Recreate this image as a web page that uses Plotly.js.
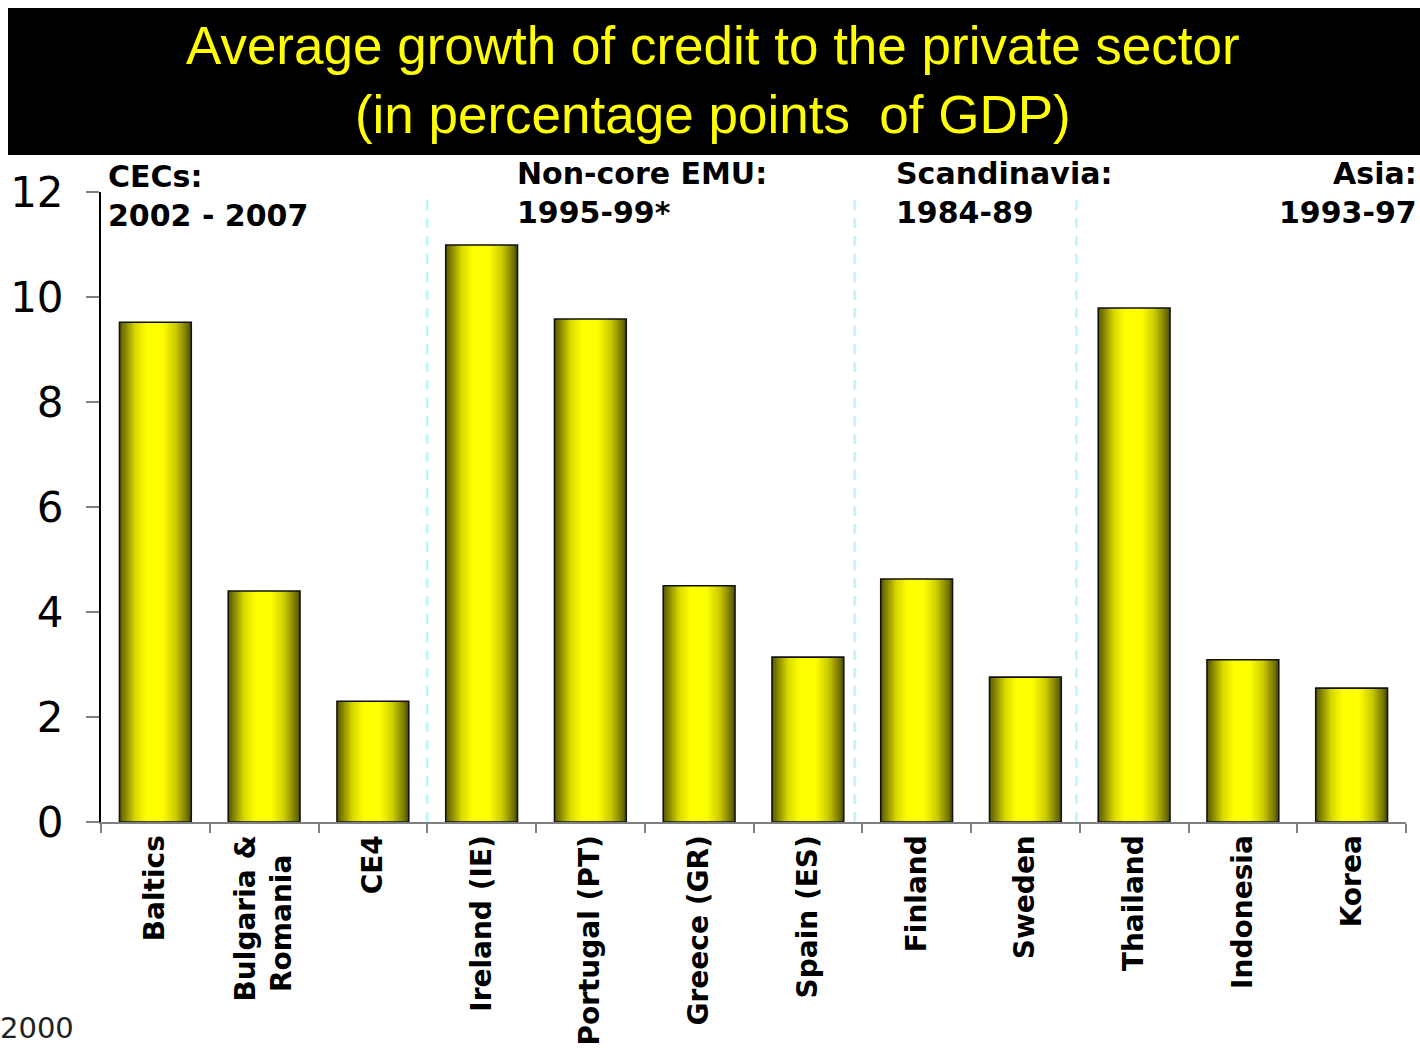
<!DOCTYPE html>
<html>
<head>
<meta charset="utf-8">
<script src="https://cdn.plot.ly/plotly-3.0.1.min.js"></script>
<style>
  html, body { margin: 0; padding: 0; background: #ffffff; }
  #chart { width: 1420px; height: 1052px; }
</style>
</head>
<body>
<div id="chart"></div>
<script>
// ---- data ----
const categories = [
  "Baltics", "Bulgaria &<br>Romania\u00A0\u00A0", "CE4",
  "Ireland (IE)", "Portugal (PT)", "Greece (GR)", "Spain (ES)",
  "Finland", "Sweden",
  "Thailand", "Indonesia", "Korea"
];
const growth = [9.52, 4.40, 2.30, 10.99, 9.58, 4.50, 3.14, 4.63, 2.76, 9.79, 3.09, 2.55];

const groupLabels = ["CECs:<br>2002 - 2007", "Non-core EMU:<br>1995-99*", "Scandinavia:<br>1984-89", "Asia:<br>1993-97"];
const titleLines = ["Average growth of credit to the private sector", "(in percentage points  of GDP)"];
const footNote = "2000";

// ---- styling helpers ----
const BAR_W = 0.66;
const N_STRIPS = 40;
function brightness(t) {
  const pts = [[0, 0.34], [0.08, 0.52], [0.22, 0.85], [0.38, 1.0], [0.6, 1.0], [0.78, 0.8], [0.92, 0.5], [1, 0.32]];
  for (let i = 1; i < pts.length; i++) {
    if (t <= pts[i][0]) {
      const [t0, b0] = pts[i - 1], [t1, b1] = pts[i];
      const u = (t - t0) / (t1 - t0);
      return b0 + (b1 - b0) * u;
    }
  }
  return pts[pts.length - 1][1];
}

const traces = [];
const sw = BAR_W / N_STRIPS;
for (let i = 0; i < N_STRIPS; i++) {
  const t = (i + 0.5) / N_STRIPS;
  const b = brightness(t);
  const c = Math.round(255 * b);
  traces.push({
    type: "bar",
    x: categories,
    y: growth,
    offset: -BAR_W / 2 + i * sw,
    width: sw + (i < N_STRIPS - 1 ? 0.006 : 0),
    marker: { color: `rgb(${c},${c},0)`, line: { width: 0 } },
    hoverinfo: "skip",
    showlegend: false
  });
}
// outline
traces.push({
  type: "bar",
  x: categories,
  y: growth,
  offset: -BAR_W / 2,
  width: BAR_W,
  marker: { color: "rgba(0,0,0,0)", line: { color: "#111111", width: 1.6 } },
  showlegend: false,
  hovertemplate: "%{x}: %{y}<extra></extra>"
});

// plot area: x 101..1406, y 192..822 (px)
const L = 101, R = 14, T = 192, B = 230, W = 1420, H = 1052;
const PW = W - L - R, PH = H - T - B;
const px = v => (v - L) / PW;
const py = v => (H - B - v) / PH;

const sepX = [2.5, 6.43, 8.47];
const shapes = [
  { type: "rect", xref: "paper", yref: "paper", x0: px(8), x1: px(1420), y0: py(155), y1: py(8),
    fillcolor: "#000000", line: { width: 0 }, layer: "below" }
];
sepX.forEach(x => shapes.push({
  type: "line", xref: "x", yref: "paper", x0: x, x1: x, y0: 0, y1: py(195),
  line: { color: "#bdf6fa", width: 2.5, dash: "10px,8px" }, layer: "below"
}));

const grpFont = { family: "DejaVu Sans, Verdana, sans-serif", size: 30, color: "#000000", weight: "bold" };
const annotations = [
  { text: groupLabels[0], xref: "paper", yref: "paper", x: px(106), y: py(157), xanchor: "left", yanchor: "top", align: "left", showarrow: false, font: grpFont },
  { text: groupLabels[1], xref: "paper", yref: "paper", x: px(515), y: py(154), xanchor: "left", yanchor: "top", align: "left", showarrow: false, font: grpFont },
  { text: groupLabels[2], xref: "paper", yref: "paper", x: px(894), y: py(154), xanchor: "left", yanchor: "top", align: "left", showarrow: false, font: grpFont },
  { text: groupLabels[3], xref: "paper", yref: "paper", x: px(1419), y: py(154), xanchor: "right", yanchor: "top", align: "right", showarrow: false, font: grpFont },
  { text: footNote, xref: "paper", yref: "paper", x: px(-2), y: py(1047), xanchor: "left", yanchor: "bottom", showarrow: false,
    font: { family: "DejaVu Sans, Verdana, sans-serif", size: 29, color: "#222222" } }
];

const layout = {
  width: W, height: H,
  margin: { l: L, r: R, t: T, b: B, pad: 0 },
  paper_bgcolor: "#ffffff",
  plot_bgcolor: "#ffffff",
  barmode: "overlay",
  showlegend: false,
  title: {
    text: titleLines.join("<br>"),
    font: { family: "Liberation Sans, Arial, sans-serif", size: 53, color: "#ffff00" },
    x: 0.502, xanchor: "center", xref: "container",
    y: 1 - 64 / H, yanchor: "middle", yref: "container"
  },
  xaxis: {
    type: "category",
    range: [-0.5, 11.5],
    showline: true, linecolor: "#808080", linewidth: 2,
    ticks: "outside", tickson: "boundaries", ticklen: 9, tickcolor: "#808080", tickwidth: 1.5,
    tickangle: -90,
    tickfont: { family: "DejaVu Sans, Verdana, sans-serif", size: 28, color: "#000000", weight: "bold" },
    showgrid: false, zeroline: false, fixedrange: true
  },
  yaxis: {
    range: [0, 12], dtick: 2, tick0: 0,
    showline: true, linecolor: "#000000", linewidth: 2,
    ticks: "outside", ticklen: 13, tickcolor: "#808080", tickwidth: 2,
    ticklabelstandoff: 14,
    tickfont: { family: "DejaVu Sans, Verdana, sans-serif", size: 42, color: "#000000" },
    showgrid: false, zeroline: false, fixedrange: true
  },
  shapes: shapes,
  annotations: annotations
};

Plotly.newPlot("chart", traces, layout, { displayModeBar: false });
</script>
</body>
</html>
